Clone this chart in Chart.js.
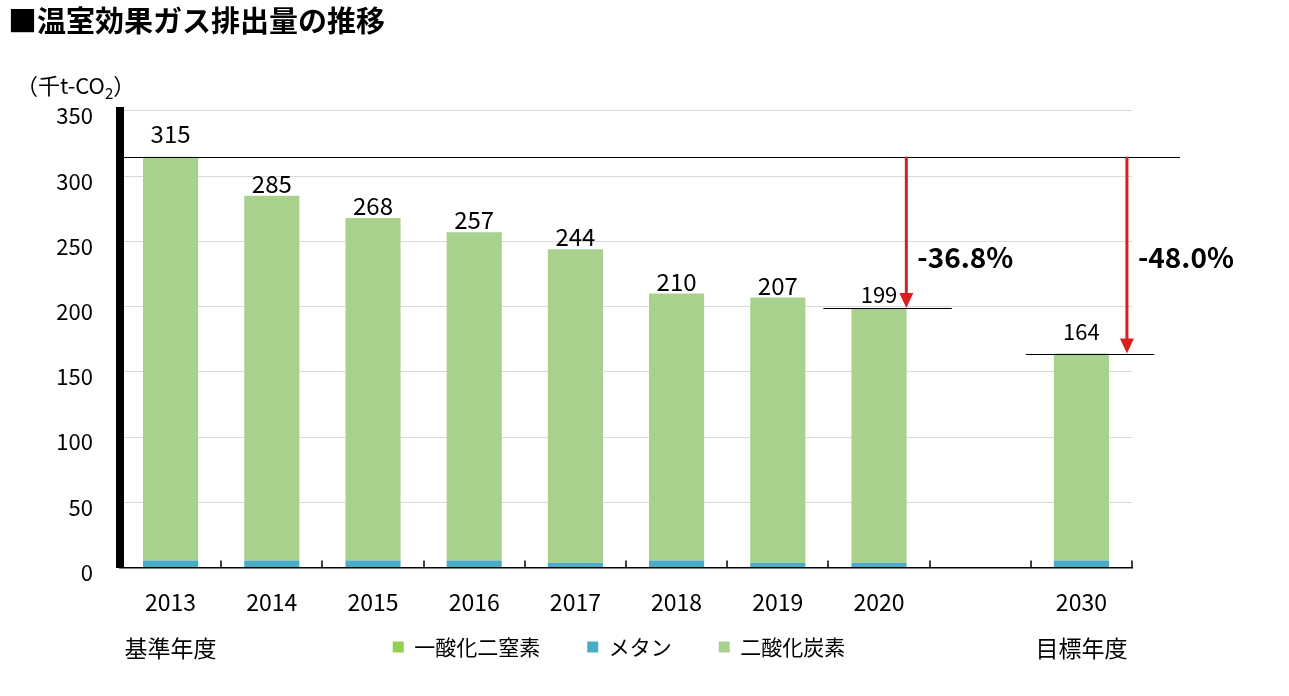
<!DOCTYPE html>
<html>
<head>
<meta charset="utf-8">
<script src="https://cdn.jsdelivr.net/npm/chart.js@4.4.1/dist/chart.umd.min.js"></script>
<style>
html,body{margin:0;padding:0;background:#fff;}
#c{display:block;}
</style>
</head>
<body>
<canvas id="c" width="1289" height="696"></canvas>
<script>
// ---- data ----
const categories = ['2013','2014','2015','2016','2017','2018','2019','2020','','2030'];
const subLabels = ['基準年度','','','','','','','','','目標年度'];
const n2oValues = [0.4,0.4,0.4,0.4,0.4,0.4,0.4,0.4,null,0.4];
const methaneValues = [5.0,5.0,5.0,5.0,3.2,5.0,3.2,3.2,null,5.0];
const co2Values = [309.6,279.6,262.6,251.6,240.4,204.6,203.4,195.4,null,158.6];
const totalLabels = ['315','285','268','257','244','210','207','199','','164'];
const seriesNames = ['一酸化二窒素','メタン','二酸化炭素'];
const baseValue = 315;
const reductionIndex = [7, 9];
const reductionTargets = [199, 164];
const reductionTexts = ['-36.8%','-48.0%'];
const titleText = '■温室効果ガス排出量の推移';

const FONT = '"Noto Sans CJK JP", "Noto Sans", sans-serif';
Chart.defaults.font.family = FONT;
Chart.defaults.color = '#000';

const labelStyle = {0:{size:24,gap:14}, 7:{size:22,gap:5}, 9:{size:22,gap:14}};
const arrowOffset = {7:0.27, 9:0.45};

const overlay = {
  id: 'overlay',
  afterLayout(chart) {
    const lg = chart.legend;
    if (lg) {
      const shift = 619 - (lg.left + lg.right) / 2;
      lg.left += shift; lg.right += shift;
      const h = lg.bottom - lg.top;
      lg.top = 589.5; lg.bottom = lg.top + h;
    }
  },
  afterDatasetsDraw(chart) {
    const {ctx, chartArea: a, scales: {x, y}} = chart;
    const cat = x.getPixelForValue(1) - x.getPixelForValue(0);
    ctx.save();
    // x tick marks (pointing up, at category boundaries)
    ctx.strokeStyle = '#000';
    ctx.lineWidth = 1.5;
    for (let i = 0; i <= categories.length; i++) {
      const tx = Math.round(x.getPixelForValue(0) - cat / 2 + i * cat);
      ctx.beginPath();
      ctx.moveTo(tx, a.bottom);
      ctx.lineTo(tx, a.bottom - 7);
      ctx.stroke();
    }
    // unit label
    ctx.fillStyle = '#000';
    ctx.textBaseline = 'middle';
    ctx.textAlign = 'left';
    const ux = 16, uy = 86;
    ctx.font = '22px ' + FONT;
    const p1 = '（千t-CO';
    ctx.fillText(p1, ux, uy);
    const w1 = ctx.measureText(p1).width;
    ctx.font = '15px ' + FONT;
    ctx.fillText('2', ux + w1, uy + 7);
    const w2 = ctx.measureText('2').width;
    ctx.font = '22px ' + FONT;
    ctx.fillText('）', ux + w1 + w2, uy);

    // value labels
    const meta = chart.getDatasetMeta(2);
    ctx.textAlign = 'center';
    ctx.textBaseline = 'alphabetic';
    totalLabels.forEach((t, i) => {
      if (!t) return;
      const el = meta.data[i];
      const st = labelStyle[i] || {size:24, gap:3};
      ctx.font = st.size + 'px ' + FONT;
      ctx.fillText(t, el.x, el.y - st.gap);
    });

    // base reference line
    const yb = y.getPixelForValue(baseValue);
    ctx.strokeStyle = '#000';
    ctx.lineWidth = 1;
    ctx.beginPath();
    ctx.moveTo(a.left + 4, Math.round(yb) + 0.5);
    ctx.lineTo(a.right + 48, Math.round(yb) + 0.5);
    ctx.stroke();

    reductionIndex.forEach((idx, k) => {
      const cx = x.getPixelForValue(idx);
      const yt = y.getPixelForValue(reductionTargets[k]);
      // target level line
      ctx.strokeStyle = '#000';
      ctx.lineWidth = 1;
      ctx.beginPath();
      ctx.moveTo(cx - 0.55 * cat, Math.round(yt) + 0.5);
      ctx.lineTo(cx + 0.72 * cat, Math.round(yt) + 0.5);
      ctx.stroke();
      // arrow
      const ax = cx + arrowOffset[idx] * cat;
      ctx.strokeStyle = '#d81e1e';
      ctx.fillStyle = '#d81e1e';
      ctx.lineWidth = 3;
      ctx.beginPath();
      ctx.moveTo(ax, yb);
      ctx.lineTo(ax, yt - 12);
      ctx.stroke();
      ctx.beginPath();
      ctx.moveTo(ax - 7, yt - 15);
      ctx.lineTo(ax + 7, yt - 15);
      ctx.lineTo(ax, yt);
      ctx.closePath();
      ctx.fill();
      // percentage text
      ctx.fillStyle = '#000';
      ctx.font = 'bold 28px ' + FONT;
      ctx.textAlign = 'left';
      ctx.textBaseline = 'middle';
      ctx.fillText(reductionTexts[k], ax + 11, y.getPixelForValue(238));
    });
    ctx.restore();
  }
};

new Chart(document.getElementById('c'), {
  type: 'bar',
  data: {
    labels: categories,
    datasets: [
      {label: seriesNames[0], data: n2oValues, backgroundColor: '#92D050'},
      {label: seriesNames[1], data: methaneValues, backgroundColor: '#4BACC6'},
      {label: seriesNames[2], data: co2Values, backgroundColor: '#A9D18E'}
    ]
  },
  options: {
    responsive: false,
    animation: false,
    barPercentage: 0.545,
    categoryPercentage: 1,
    layout: {padding: {left: 8, right: 157, top: 0, bottom: -44.5}},
    plugins: {
      title: {
        display: true, text: titleText, align: 'start', color: '#000',
        font: {size: 29, weight: 'bold', family: FONT, lineHeight: 1.2},
        padding: {top: 3.6, bottom: 72.6}
      },
      legend: {
        position: 'bottom',
        labels: {boxWidth: 11, boxHeight: 11, padding: 47, color: '#000', font: {size: 21, family: FONT}}
      },
      tooltip: {enabled: false}
    },
    scales: {
      x: {
        stacked: true,
        grid: {offset: true, drawOnChartArea: false, drawTicks: false},
        border: {color: '#000', width: 1.5},
        ticks: {
          color: '#000', padding: 23, autoSkip: false, maxRotation: 0,
          font: {size: 23, lineHeight: 1, family: FONT},
          callback: (v, i) => [categories[i], '', subLabels[i]]
        },
        afterFit(s) { s.height = 95; }
      },
      y: {
        stacked: true, min: 0, max: 350,
        ticks: {stepSize: 50, color: '#000', padding: 27, labelOffset: 5, font: {size: 22, family: FONT}},
        grid: {color: '#d9d9d9', drawTicks: false, lineWidth: 1},
        border: {color: '#000', width: 8},
        afterFit(s) { s.width = 112; }
      }
    }
  },
  plugins: [overlay]
});
</script>
</body>
</html>
